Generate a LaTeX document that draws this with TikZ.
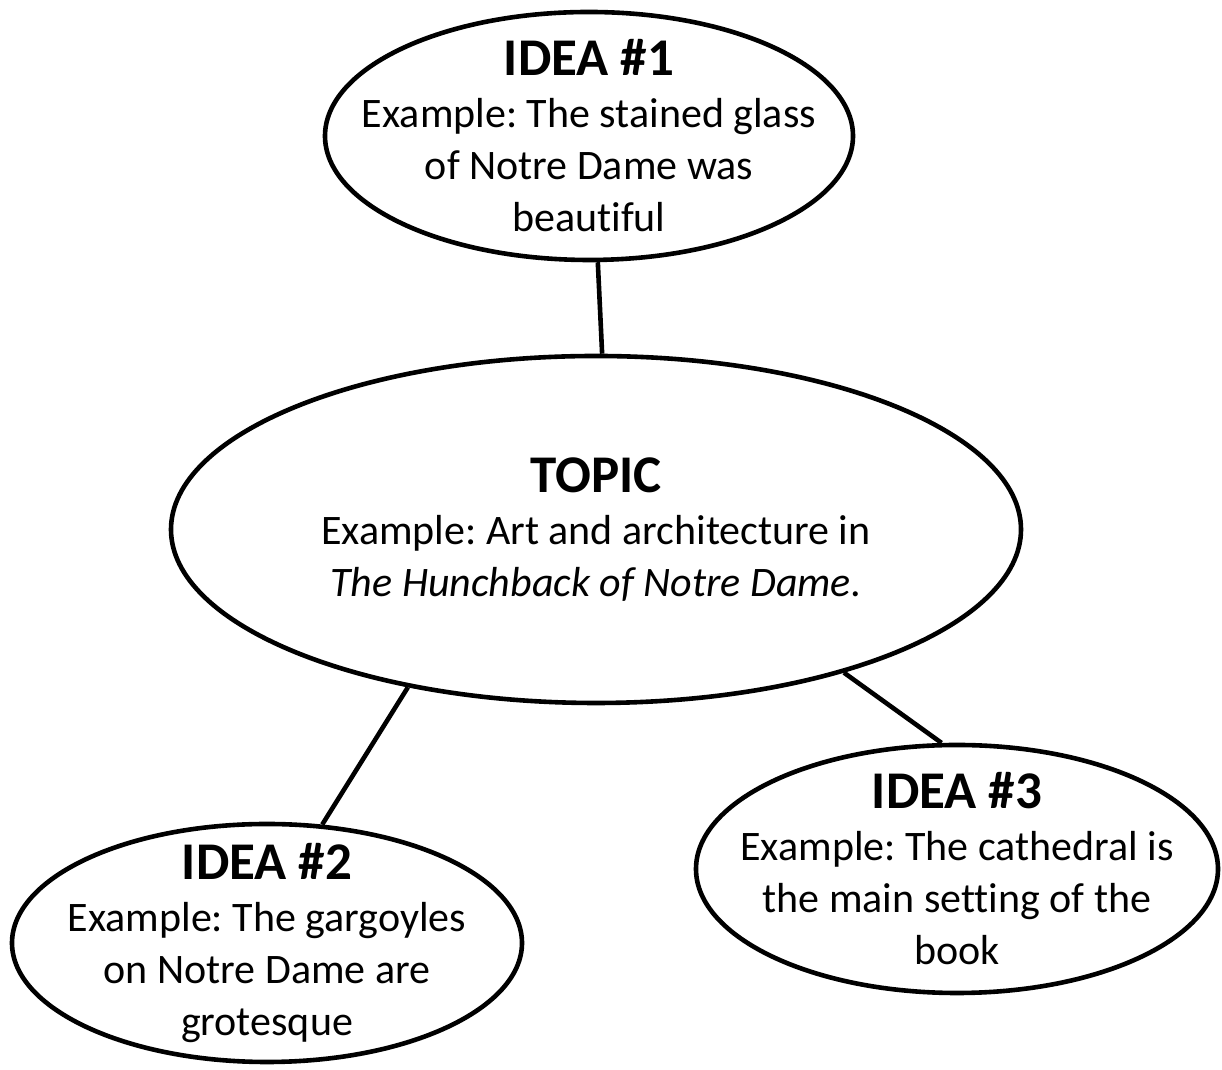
\documentclass[tikz,border=0pt]{standalone}
\usepackage{fontspec}
\setmainfont{Carlito}[Ligatures=NoCommon]
\usetikzlibrary{shapes.geometric,positioning}
\frenchspacing

\newcommand{\ideahead}[1]{{\fontsize{26.5}{26}\selectfont\bfseries #1}}

\begin{document}
\begin{tikzpicture}[node distance=2cm, on grid,
  bubble/.style={draw, ellipse, line width=2.3pt, inner sep=0pt},
  words/.style={align=center, font=\fontsize{21}{26}\selectfont}]
\useasboundingbox (0,0) rectangle (611pt,535pt);
% bubbles
\node[bubble, minimum width=425pt, minimum height=173.5pt] (topic) at (298pt,270.25pt) {};
\node[bubble, minimum width=264pt, minimum height=124pt] (idea1) [above=196.75pt of topic, xshift=-3.5pt] {};
\node[bubble, minimum width=255pt, minimum height=119pt] (idea2) [below left=206.75pt and 164.5pt of topic] {};
\node[bubble, minimum width=261pt, minimum height=124pt] (idea3) [below right=169.75pt and 180.5pt of topic] {};
% texts
\node[words] (topictext) at (topic) {\ideahead{TOPIC}\\Example: Art and architecture in\\\emph{The Hunchback of Notre Dame}.};
\node[words] (idea1text) at (idea1) {\ideahead{IDEA \#1}\\Example: The stained glass\\of Notre Dame was\\beautiful};
\node[words] (idea2text) at (idea2) {\ideahead{IDEA \#2}\\Example: The gargoyles\\on Notre Dame are\\grotesque};
\node[words] (idea3text) at (idea3) {\ideahead{IDEA \#3}\\Example: The cathedral is\\the main setting of the\\book};
\path[line width=2.3pt]
(idea1.274) edge (topic.88)
(topic.220) edge (idea2.65)
(topic.330) edge (idea3.97);
\end{tikzpicture}
\end{document}
